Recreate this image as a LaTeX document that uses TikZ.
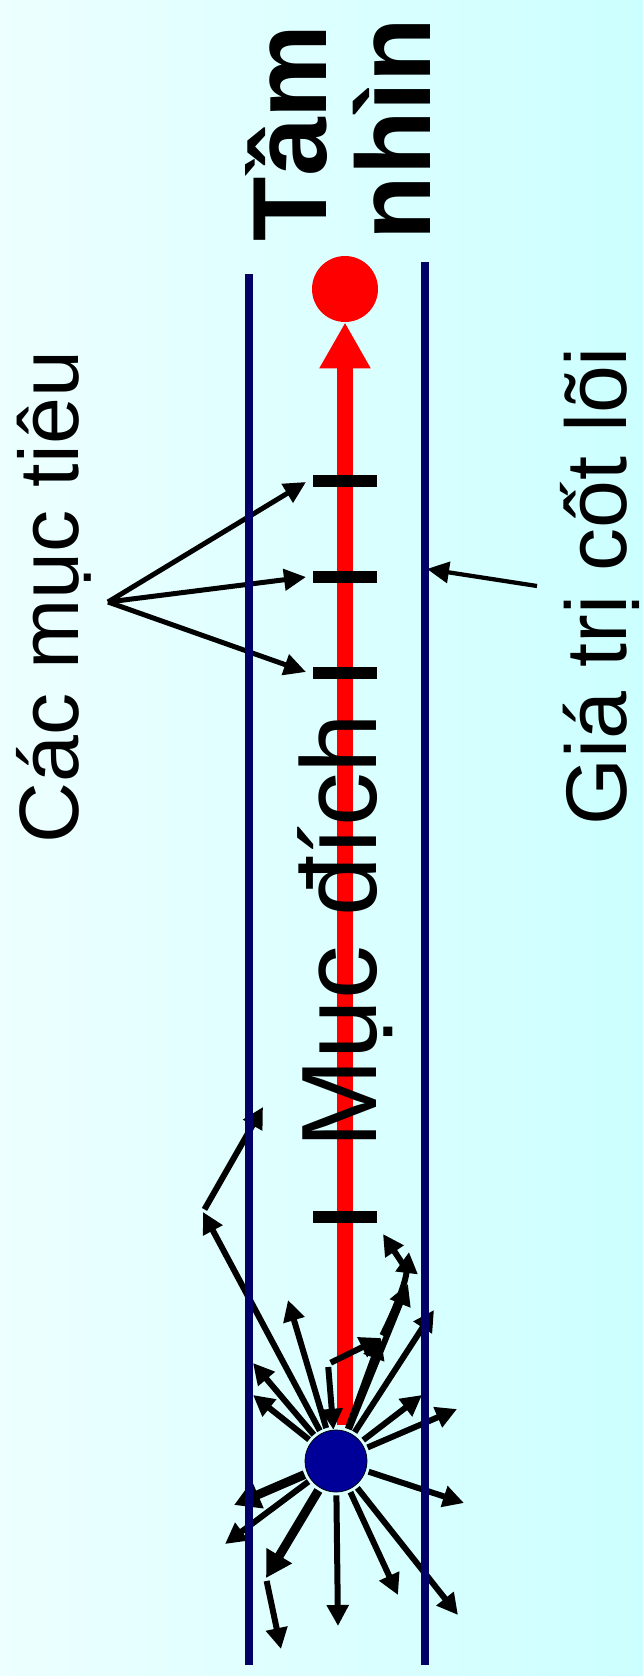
\documentclass[tikz,border=0pt]{standalone}
\usepackage{fontspec}
\setmainfont{Liberation Sans}
\usetikzlibrary{arrows.meta}
\definecolor{bgleft}{HTML}{EDFFFF}
\definecolor{bgright}{HTML}{CCFFFF}
\definecolor{railblue}{HTML}{000066}
\definecolor{coreblue}{HTML}{000099}

\begin{document}
\begin{tikzpicture}[x=0.02cm, y=-0.02cm,
    rail/.style={railblue, line width=0.16cm},
    bar/.style={black, line width=0.24cm},
    spoke/.style={line width=0.12cm, shorten <=0.06cm, -{Triangle[length=0.42cm, width=0.42cm]}},
    heavy/.style={spoke, line width=0.18cm, -{Triangle[length=0.52cm, width=0.56cm]}},
    pointer/.style={line width=0.1cm, -{Triangle[length=0.44cm, width=0.42cm]}},
    vtext/.style={rotate=90, anchor=base, inner sep=0pt}]
      % background
      \useasboundingbox (0,0) rectangle (643,1676);
      \shade[left color=bgleft, right color=bgright] (0,0) rectangle (643,1676);

      % vision dot and purpose arrow
      \node[circle, fill=red, inner sep=0pt, minimum size=1.32cm] (vision) at (345,289) {};
      \coordinate (start) at (345,1425);
      \draw[red, line width=0.32cm, -{Triangle[length=0.92cm, width=0.96cm]}] (start) -- (vision.south);

      % core value node
      \node[circle, draw=black, line width=0.4pt, fill=coreblue, inner sep=0pt,
        minimum size=1.24cm] (core) at (336,1461) {};

      % burst of arrows out of the core
      \foreach \i/\x/\y in {1/338/1626, 2/398/1595, 3/458/1615, 4/464/1503, 5/457/1409,
          6/422/1395, 7/434/1310, 8/408/1284, 9/381/1338, 10/288/1300, 11/203/1212,
          12/253/1363, 13/253/1395, 15/225/1544} {
        \coordinate (s\i) at (\x,\y);
        \draw[spoke] (core) -- (s\i);
      }
      \coordinate (s14) at (234,1505); \coordinate (s16) at (266,1578);
      \draw[heavy] (core) -- (s14); \draw[heavy] (core) -- (s16);

      % stray arrows
      \coordinate (up11) at (263,1107); \draw[spoke] (s11) -- (up11);
      \coordinate (dn16) at (281,1649); \draw[spoke] (s16) -- (dn16);
      \coordinate (bend) at (328,1364);
      \draw[spoke] (bend) -- (core); \draw[spoke] (bend) -- (s9);
      \coordinate (hook) at (409,1252);
      \draw[spoke] (s9) .. controls (395,1310) and (405,1285) .. (hook);
      \coordinate (hook2) at (408,1272); \coordinate (flick) at (383,1234);
      \draw[spoke] (hook2) -- (flick);

      % pointers from the labels
      \coordinate (fan) at (108,602);
      \coordinate (g1) at (306,482); \coordinate (g2) at (306,577);
      \coordinate (g3) at (306,672);
      \foreach \g in {g1,g2,g3} \draw[pointer] (fan) -- (\g);
      \coordinate (vtail) at (537,586); \coordinate (vtip) at (427,569);
      \draw[pointer, line width=0.085cm] (vtail) -- (vtip);

      % rails
      \draw[rail] (249,274) -- (249,1665); \draw[rail] (425,262) -- (425,1665);

      % ticks
      \foreach \t in {481,577,673,1217} \draw[bar] (313,\t) -- (377,\t);

      % labels
      \node[vtext, font=\fontsize{60}{60}\selectfont\bfseries] (vis1) at (326,133) {Tầm};
      \node[vtext, font=\fontsize{60}{60}\selectfont\bfseries] (vis2) at (430,129) {nhìn};
      \node[vtext, font=\fontsize{61}{61}\selectfont] (purpose) at (376,931) {Mục đích};
      \node[vtext, font=\fontsize{48}{48}\selectfont] (goals) at (78,597) {Các mục tiêu};
      \node[vtext, font=\fontsize{49}{49}\selectfont] (values) at (626,586) {Giá trị cốt lõi};
    \end{tikzpicture}
\end{document}
